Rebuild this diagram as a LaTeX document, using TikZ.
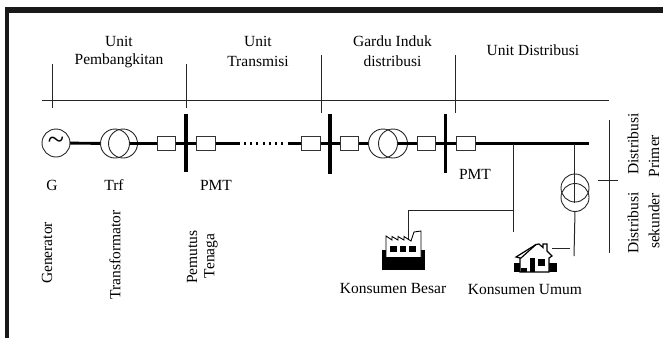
\documentclass[tikz,border=0pt]{standalone}
\usepackage{fontspec}
\setmainfont{Liberation Serif}
\begin{document}
\begin{tikzpicture}[x=1pt,y=-1pt,
  every node/.style={inner sep=0pt,outer sep=0pt},
  lbl/.style={font=\fontsize{15.5}{18}\selectfont,text=black,align=center},
  vlbl/.style={lbl,rotate=90},
  thin line/.style={draw=black!85,line width=1pt},
  bus/.style={draw=black,line width=2.9pt},
  busbar/.style={draw=black,line width=3.6pt},
  coil/.style={circle,draw=black!85,line width=0.9pt,minimum size=29pt},
  breaker/.style={rectangle,draw=black!80,fill=white,line width=1pt,minimum width=18.5pt,minimum height=14pt}]
\useasboundingbox (0,0) rectangle (663,338);
\fill[black!90] (5,7) rectangle (663,13);
\fill[black!90] (5,7) rectangle (9,338);
% scale line
\coordinate (sl) at (42,100); \coordinate (sr) at (609,100);
\draw[thin line] (sl) -- (sr);
\coordinate (t1a) at (52,64); \coordinate (t1b) at (52,108);
\coordinate (t2a) at (186,64); \coordinate (t2b) at (186,108);
\coordinate (t3a) at (321,55); \coordinate (t3b) at (321,113);
\coordinate (t4a) at (455.5,55); \coordinate (t4b) at (455.5,113);
\draw[thin line] (t1a) -- (t1b);
\draw[thin line] (t2a) -- (t2b);
\draw[thin line] (t3a) -- (t3b);
\draw[thin line] (t4a) -- (t4b);
% main bus
\coordinate (gc) at (56,143);
\coordinate (t1l) at (115,143.5); \coordinate (t1r) at (123,143.5);
\node[breaker] (b1) at (166.5,143.5) {};
\node[breaker] (b2) at (206,143.5) {};
\node[breaker] (b3) at (311,143.5) {};
\node[breaker] (b4) at (349.5,143.5) {};
\node[breaker] (b5) at (426.5,143.5) {};
\node[breaker] (b6) at (466,143.5) {};
\coordinate (t2l) at (383,143.5); \coordinate (t2r) at (393,143.5);
\coordinate (d1) at (240,143.5); \coordinate (d2) at (288,143.5);
\coordinate (d3) at (244,143.5); \coordinate (d4) at (286,143.5);
\coordinate (busend) at (589,143.5);
\draw[bus] (gc) -- (t1l);
\draw[bus] (t1r) -- (b1);
\draw[bus] (b1) -- (b2);
\draw[bus] (b2) -- (d1);
\draw[draw=black,line width=2.6pt,dash pattern=on 2pt off 4.2pt] (d3) -- (d4);
\draw[bus] (d2) -- (b3);
\draw[bus] (b3) -- (b4);
\draw[bus] (b4) -- (t2l);
\draw[bus] (t2r) -- (b5);
\draw[bus] (b5) -- (b6);
\draw[bus] (b6) -- (busend);
\node[breaker] at (b1) {};
\node[breaker] at (b2) {};
\node[breaker] at (b3) {};
\node[breaker] at (b4) {};
\node[breaker] at (b5) {};
\node[breaker] at (b6) {};
\node[coil,fill=white,minimum size=28pt] (gen) at (gc) {\fontsize{30}{30}\selectfont\raisebox{-1pt}{\char`~}};
\node[coil,fill=white] (tr1a) at (t1l) {};
\node[coil] (tr1b) at (t1r) {};
\draw[bus] (tr1a.east) -- (tr1b.east);
\node[coil,fill=white] (tr2a) at (t2l) {};
\node[coil] (tr2b) at (t2r) {};
\draw[bus] (tr2a.east) -- (tr2b.east);
% busbars
\coordinate (bb1a) at (186,114); \coordinate (bb1b) at (186,172);
\coordinate (bb2a) at (330,114); \coordinate (bb2b) at (330,174);
\coordinate (bb3a) at (445.5,114); \coordinate (bb3b) at (445.5,173);
\draw[busbar] (bb1a) -- (bb1b);
\draw[busbar] (bb2a) -- (bb2b);
\draw[busbar] (bb3a) -- (bb3b);
% branches
\coordinate (j1) at (513,143.5); \coordinate (j1e) at (513,232);
\coordinate (j1h) at (513,210); \coordinate (fc) at (408,210); \coordinate (fe) at (408,240);
\draw[thin line] (j1) -- (j1e);
\draw[thin line] (j1h) -- (fc) -- (fe);
\coordinate (j2) at (574,143.5);
\coordinate (j2in) at (574,203);
\node[coil,minimum size=28pt] (tr3a) at (575,188) {};
\node[coil,minimum size=28pt] (tr3b) at (575,197.5) {};
\coordinate (j2e) at (574,256);
\coordinate (hs1) at (552,248); \coordinate (hs2) at (569.5,248);
\draw[thin line] (j2) -- (j2in);
\draw[thin line] (tr3b.south) -- (j2e);
\draw[thin line] (hs1) -- (hs2);
% primary / secondary marker
\coordinate (m1) at (609,120); \coordinate (m2) at (609,253);
\coordinate (m3) at (598,180); \coordinate (m4) at (618,180);
\draw[thin line] (m1) -- (m2);
\draw[thin line] (m3) -- (m4);
% factory icon
\fill[black] (382,250) rectangle (425,269.5);
\fill[white,draw=black,line width=0.9pt] (386,257.5) -- (386,236) -- (392,240) -- (392,236.5) -- (398,240) -- (398,236.5) -- (404,240) -- (404,236.5) -- (411,241) -- (414,232) -- (421,231) -- (421,257.5) -- cycle;
\fill[black] (390,246) rectangle (396.5,252);
\fill[black] (399.5,246) rectangle (406,252);
\fill[black] (409,246) rectangle (415.5,252);
% house icon
\fill[black] (514,263) rectangle (557,272);
\fill[white,draw=black,line width=1.2pt] (520,272) -- (520,258) -- (521,258) -- (536,244.5) -- (539,244) -- (543,247.5) -- (543,244) -- (547,244) -- (547,251) -- (552,256) -- (549,258) -- (549,272) -- cycle;
\draw[black,line width=1.2pt] (520,258) -- (516,257) -- (536,244.5);
\fill[black] (530,258) rectangle (535,272);
\fill[black] (538,259) rectangle (545,266);
\fill[black] (521,268) rectangle (527,272);
% labels
\node[lbl] (lu1) at (119,41) {Unit};
\node[lbl] (lp1) at (119,61) {Pembangkitan};
\node[lbl] (lu2) at (258,41) {Unit};
\node[lbl] (lt2) at (258,61) {Transmisi};
\node[lbl] (lg3) at (392.5,41) {Gardu Induk};
\node[lbl] (ld3) at (392.5,61) {distribusi};
\node[lbl] (lu4) at (533,50) {Unit Distribusi};
\node[lbl] (lG) at (52,185) {G};
\node[lbl] (lT) at (114,185) {Trf};
\node[lbl] (lP) at (216,185) {PMT};
\node[lbl] (lP2) at (475,174) {PMT};
\node[vlbl] (vg) at (47,253) {Generator};
\node[vlbl] (vt) at (115,255) {Transformator};
\node[vlbl] (vp) at (192,257) {Pemutus};
\node[vlbl] (vte) at (211,256) {Tenaga};
\node[vlbl] (vd1) at (633,144) {Distribusi};
\node[vlbl] (vd2) at (633,223) {Distribusi};
\node[vlbl] (vpr) at (654,156) {Primer};
\node[vlbl] (vs) at (654,221) {sekunder};
\node[lbl] (lkb) at (393,288) {Konsumen Besar};
\node[lbl] (lku) at (525,289) {Konsumen Umum};
\end{tikzpicture}
\end{document}
